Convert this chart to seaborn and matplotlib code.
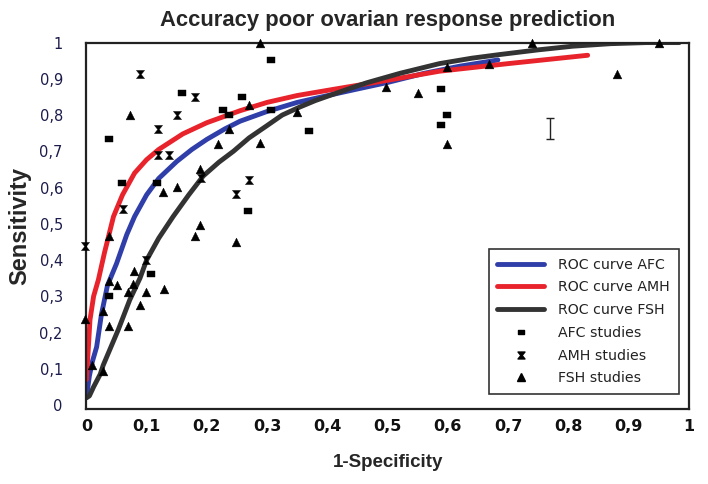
import numpy as np
import pandas as pd
import matplotlib
matplotlib.use("Agg")
import matplotlib.pyplot as plt
from matplotlib.path import Path
from matplotlib.lines import Line2D
import seaborn as sns

# ---- ROC curves ----
afc_curve_x = [0.0, 0.005, 0.01, 0.017, 0.025, 0.035, 0.05, 0.067, 0.08, 0.1, 0.12, 0.15, 0.175, 0.2, 0.23, 0.255,
               0.3, 0.35, 0.409, 0.45, 0.5, 0.56, 0.62, 0.683]
afc_curve_y = [0.02, 0.08, 0.12, 0.16, 0.25, 0.33, 0.39, 0.47, 0.52, 0.58, 0.625, 0.672, 0.705, 0.733, 0.762, 0.783,
               0.81, 0.835, 0.857, 0.872, 0.89, 0.915, 0.935, 0.952]

amh_curve_x = [0.0, 0.003, 0.006, 0.012, 0.02, 0.03, 0.045, 0.06, 0.08, 0.1, 0.12, 0.16, 0.2, 0.23, 0.255, 0.3,
               0.35, 0.41, 0.5, 0.586, 0.7, 0.832]
amh_curve_y = [0.07, 0.15, 0.235, 0.30, 0.346, 0.42, 0.52, 0.58, 0.64, 0.677, 0.705, 0.748, 0.779, 0.797, 0.812, 0.835,
               0.854, 0.871, 0.896, 0.921, 0.942, 0.965]

fsh_curve_x = [0.0, 0.005, 0.012, 0.023, 0.028, 0.053, 0.072, 0.089, 0.1, 0.12, 0.144, 0.17, 0.194, 0.22, 0.244,
               0.27, 0.299, 0.325, 0.354, 0.38, 0.409, 0.44, 0.465, 0.52, 0.586, 0.64, 0.686, 0.75, 0.807, 0.87,
               0.929, 0.984]
fsh_curve_y = [0.02, 0.025, 0.05, 0.085, 0.11, 0.208, 0.29, 0.35, 0.40, 0.46, 0.52, 0.58, 0.632, 0.67, 0.70,
               0.737, 0.77, 0.80, 0.822, 0.84, 0.857, 0.875, 0.889, 0.915, 0.942, 0.957, 0.967, 0.98, 0.99, 0.997,
               1.0, 1.0]

# ---- individual studies ----
afc_x = [0.037, 0.059, 0.117, 0.159, 0.226, 0.237, 0.258, 0.307, 0.306, 0.370, 0.107, 0.038, 0.269, 0.588, 0.599, 0.588]
afc_y = [0.735, 0.613, 0.613, 0.862, 0.813, 0.80, 0.851, 0.952, 0.815, 0.756, 0.362, 0.30, 0.534, 0.871, 0.80, 0.772]

amh_x = [0.089, 0.180, 0.150, 0.119, 0.119, 0.137, 0.060, 0.191, 0.249, 0.270, -0.002, 0.099]
amh_y = [0.912, 0.849, 0.80, 0.762, 0.689, 0.689, 0.542, 0.627, 0.583, 0.62, 0.44, 0.401]

fsh_x = [0.072, 0.188, 0.237, 0.219, 0.128, 0.150, 0.188, 0.180, 0.038, 0.249, 0.079, 0.038, 0.050, 0.078,
         0.069, 0.099, 0.129, 0.089, 0.028, 0.038, 0.069, -0.002, 0.009, 0.027, 0.288, 0.270, 0.350, 0.288,
         0.498, 0.55, 0.599, 0.599, 0.669, 0.739, 0.951, 0.880]
fsh_y = [0.80, 0.65, 0.762, 0.72, 0.588, 0.602, 0.498, 0.467, 0.467, 0.449, 0.371, 0.341, 0.332, 0.334,
         0.311, 0.311, 0.32, 0.277, 0.258, 0.219, 0.219, 0.237, 0.111, 0.093, 1.0, 0.828, 0.808, 0.722,
         0.878, 0.86, 0.721, 0.932, 0.942, 1.0, 1.0, 0.912]

# odd I-beam mark in the picture
ibeam_x = [0.77]
ibeam_y = [0.764]
ibeam_err = [0.029]

x_ticks = [0, 0.1, 0.2, 0.3, 0.4, 0.5, 0.6, 0.7, 0.8, 0.9, 1.0]
x_tick_labels = ["0", "0,1", "0,2", "0,3", "0,4", "0,5", "0,6", "0,7", "0,8", "0,9", "1"]
y_ticks = [0, 0.1, 0.2, 0.3, 0.4, 0.5, 0.6, 0.7, 0.8, 0.9, 1.0]
y_tick_labels = ["0", "0,1", "0,2", "0,3", "0,4", "0,5", "0,6", "0,7", "0,8", "0,9", "1"]

sns.set_style("white")
plt.rcParams['font.family'] = ['DejaVu Sans']

curves = pd.concat([
    pd.DataFrame({"x": afc_curve_x, "y": afc_curve_y, "curve": "ROC curve AFC"}),
    pd.DataFrame({"x": amh_curve_x, "y": amh_curve_y, "curve": "ROC curve AMH"}),
    pd.DataFrame({"x": fsh_curve_x, "y": fsh_curve_y, "curve": "ROC curve FSH"}),
], ignore_index=True)
colors = {"ROC curve AFC": "#2f3ea8", "ROC curve AMH": "#e8232b", "ROC curve FSH": "#333333"}

fig = plt.figure(figsize=(7.08, 4.84), dpi=100)
ax = fig.add_axes([0.122, 0.155, 0.851, 0.757])

sns.lineplot(data=curves, x="x", y="y", hue="curve", palette=colors, sort=False,
             estimator=None, linewidth=3.5, ax=ax, legend=False)
for ln in ax.get_lines():
    ln.set_solid_capstyle("round")
    ln.set_solid_joinstyle("round")

hourglass = Path([(-1, 1), (1, 1), (0.18, 0), (1, -1), (-1, -1), (-0.18, 0), (-1, 1)],
                 [Path.MOVETO, Path.LINETO, Path.LINETO, Path.LINETO, Path.LINETO, Path.LINETO, Path.CLOSEPOLY])
square = Path([(-1, -0.65), (1, -0.65), (1, 0.65), (-1, 0.65), (-1, -0.65)],
              [Path.MOVETO, Path.LINETO, Path.LINETO, Path.LINETO, Path.CLOSEPOLY])

sns.scatterplot(x=afc_x, y=afc_y, marker=square, s=38, color="black", edgecolor="black",
                linewidth=0.3, ax=ax, clip_on=False, zorder=5)
sns.scatterplot(x=amh_x, y=amh_y, marker=hourglass, s=34, color="black", edgecolor="black",
                linewidth=0.3, ax=ax, clip_on=False, zorder=5)
sns.scatterplot(x=fsh_x, y=fsh_y, marker="^", s=40, color="black", edgecolor="black",
                linewidth=0.3, ax=ax, clip_on=False, zorder=5)

ax.errorbar(ibeam_x, ibeam_y, yerr=ibeam_err, fmt="none", ecolor="#222222",
            elinewidth=1.0, capsize=3, capthick=1.0)

ax.set_xlim(0, 1)
ax.set_ylim(-0.011, 1.0)
ax.set_xticks(x_ticks)
ax.set_xticklabels(x_tick_labels, fontsize=11.5, fontweight="bold", color="#111111")
ax.set_yticks(y_ticks)
ax.set_yticklabels(y_tick_labels, fontsize=10.5, color="#1c1c4c")
ax.tick_params(axis="x", direction="inout", length=7, width=1.3, color="#222222", pad=4)
ax.tick_params(axis="y", direction="out", length=3, width=1.0, color="#555555", pad=14)

for s in ax.spines.values():
    s.set_color("#222222")
    s.set_linewidth(1.6)

ax.set_xlabel("1-Specificity", fontsize=13.5, fontweight="bold", family="Liberation Sans", labelpad=14)
ax.set_ylabel("Sensitivity", fontsize=17, fontweight="bold", family="Liberation Sans", labelpad=6)
ax.set_title("Accuracy poor ovarian response prediction", fontsize=15.8, fontweight="bold",
             family="Liberation Sans", pad=12)

handles = [
    Line2D([], [], color=colors["ROC curve AFC"], lw=3.5),
    Line2D([], [], color=colors["ROC curve AMH"], lw=3.5),
    Line2D([], [], color=colors["ROC curve FSH"], lw=3.5),
    Line2D([], [], color="black", marker=square, ls="none", markersize=5),
    Line2D([], [], color="black", marker=hourglass, ls="none", markersize=5),
    Line2D([], [], color="black", marker="^", ls="none", markersize=6),
]
labels = ["ROC curve AFC", "ROC curve AMH", "ROC curve FSH", "AFC studies", "AMH studies", "FSH studies"]
leg = ax.legend(handles, labels, loc="lower right", bbox_to_anchor=(0.983, 0.041),
                fontsize=10.2, frameon=True, fancybox=False, edgecolor="black",
                handlelength=3.3, handletextpad=1.0, labelspacing=0.62, borderpad=0.6,
                borderaxespad=0)
leg.get_frame().set_linewidth(1.2)
for t in leg.get_texts():
    t.set_color("#222222")

fig.savefig("out.png", dpi=100)
